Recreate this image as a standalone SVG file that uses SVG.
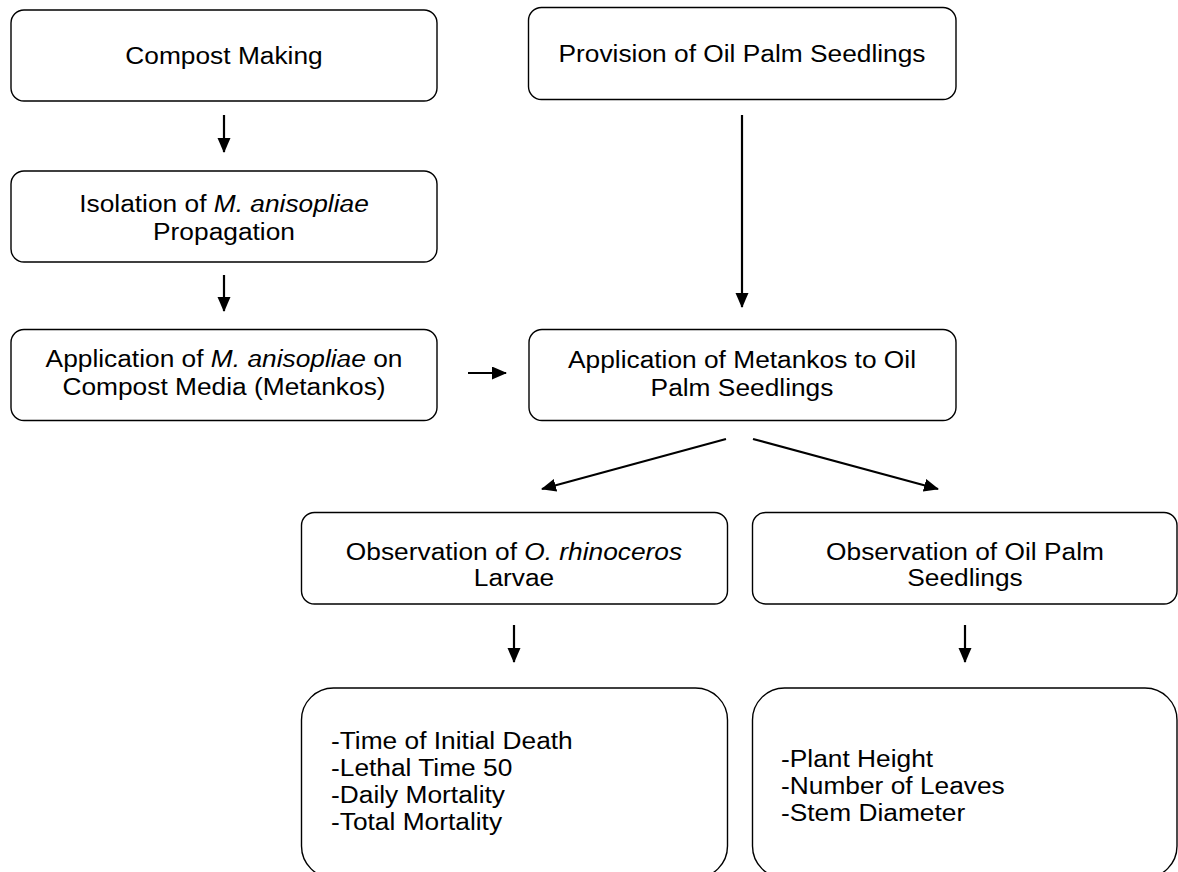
<svg xmlns="http://www.w3.org/2000/svg" width="1178" height="872" viewBox="0 0 1178 872">
<style>
.box{fill:#fff;stroke:#000;stroke-width:1.4}
.t{font-family:"Liberation Sans",Arial,Helvetica,sans-serif;font-size:23.5px;fill:#000}
.c{text-anchor:middle}
.i{font-style:italic}
.conn line{stroke:#000;stroke-width:2.2;marker-end:url(#ah)}
</style>
<defs>
<marker id="ah" markerUnits="userSpaceOnUse" markerWidth="16" markerHeight="14" refX="14" refY="6.5" orient="auto">
<path d="M0,0 L15,6.5 L0,13 z" fill="#000"/>
</marker>
</defs>
<rect width="1178" height="872" fill="#fff"/>

<g id="compost-making">
<rect class="box" x="11" y="10" width="426" height="91" rx="13"/>
<text class="t c" transform="translate(224,64) scale(1.12,1)">Compost Making</text>
</g>

<g id="provision">
<rect class="box" x="528.5" y="7.5" width="427.5" height="92" rx="13"/>
<text class="t c" transform="translate(742,62) scale(1.12,1)">Provision of Oil Palm Seedlings</text>
</g>

<g id="isolation">
<rect class="box" x="11" y="171" width="426" height="91" rx="13"/>
<text class="t c" transform="translate(224,212) scale(1.12,1)">Isolation of <tspan class="i">M. anisopliae</tspan></text>
<text class="t c" transform="translate(224,240) scale(1.12,1)">Propagation</text>
</g>

<g id="application-m">
<rect class="box" x="11" y="329.5" width="426" height="91" rx="13"/>
<text class="t c" transform="translate(224,367) scale(1.12,1)">Application of <tspan class="i">M. anisopliae</tspan> on</text>
<text class="t c" transform="translate(224,395) scale(1.12,1)">Compost Media (Metankos)</text>
</g>

<g id="application-metankos">
<rect class="box" x="529" y="329.5" width="427" height="91" rx="13"/>
<text class="t c" transform="translate(742,368) scale(1.12,1)">Application of Metankos to Oil</text>
<text class="t c" transform="translate(742,396) scale(1.12,1)">Palm Seedlings</text>
</g>

<g id="observation-larvae">
<rect class="box" x="301.5" y="512.5" width="426" height="91.5" rx="13"/>
<text class="t c" transform="translate(514,560) scale(1.12,1)">Observation of <tspan class="i">O. rhinoceros</tspan></text>
<text class="t c" transform="translate(514,586) scale(1.12,1)">Larvae</text>
</g>

<g id="observation-seedlings">
<rect class="box" x="752.5" y="512.5" width="424.5" height="91.5" rx="13"/>
<text class="t c" transform="translate(965,560) scale(1.12,1)">Observation of Oil Palm</text>
<text class="t c" transform="translate(965,586) scale(1.12,1)">Seedlings</text>
</g>

<g id="larvae-params">
<rect class="box" x="301.5" y="688" width="426" height="190" rx="32"/>
<text class="t" transform="translate(331,749) scale(1.12,1)">-Time of Initial Death</text>
<text class="t" transform="translate(331,776) scale(1.12,1)">-Lethal Time 50</text>
<text class="t" transform="translate(331,803) scale(1.12,1)">-Daily Mortality</text>
<text class="t" transform="translate(331,830) scale(1.12,1)">-Total Mortality</text>
</g>

<g id="seedling-params">
<rect class="box" x="752.5" y="688" width="424.5" height="190" rx="32"/>
<text class="t" transform="translate(781,767) scale(1.12,1)">-Plant Height</text>
<text class="t" transform="translate(781,794) scale(1.12,1)">-Number of Leaves</text>
<text class="t" transform="translate(781,821) scale(1.12,1)">-Stem Diameter</text>
</g>

<g id="connectors" class="conn">
<line x1="224" y1="115" x2="224" y2="152"/>
<line x1="224" y1="275" x2="224" y2="311"/>
<line x1="468" y1="373" x2="506" y2="373"/>
<line x1="742" y1="115" x2="742" y2="307"/>
<line x1="726" y1="439" x2="542" y2="489"/>
<line x1="753" y1="439" x2="938" y2="489"/>
<line x1="514" y1="625" x2="514" y2="662"/>
<line x1="965" y1="625" x2="965" y2="662"/>
</g>
</svg>
